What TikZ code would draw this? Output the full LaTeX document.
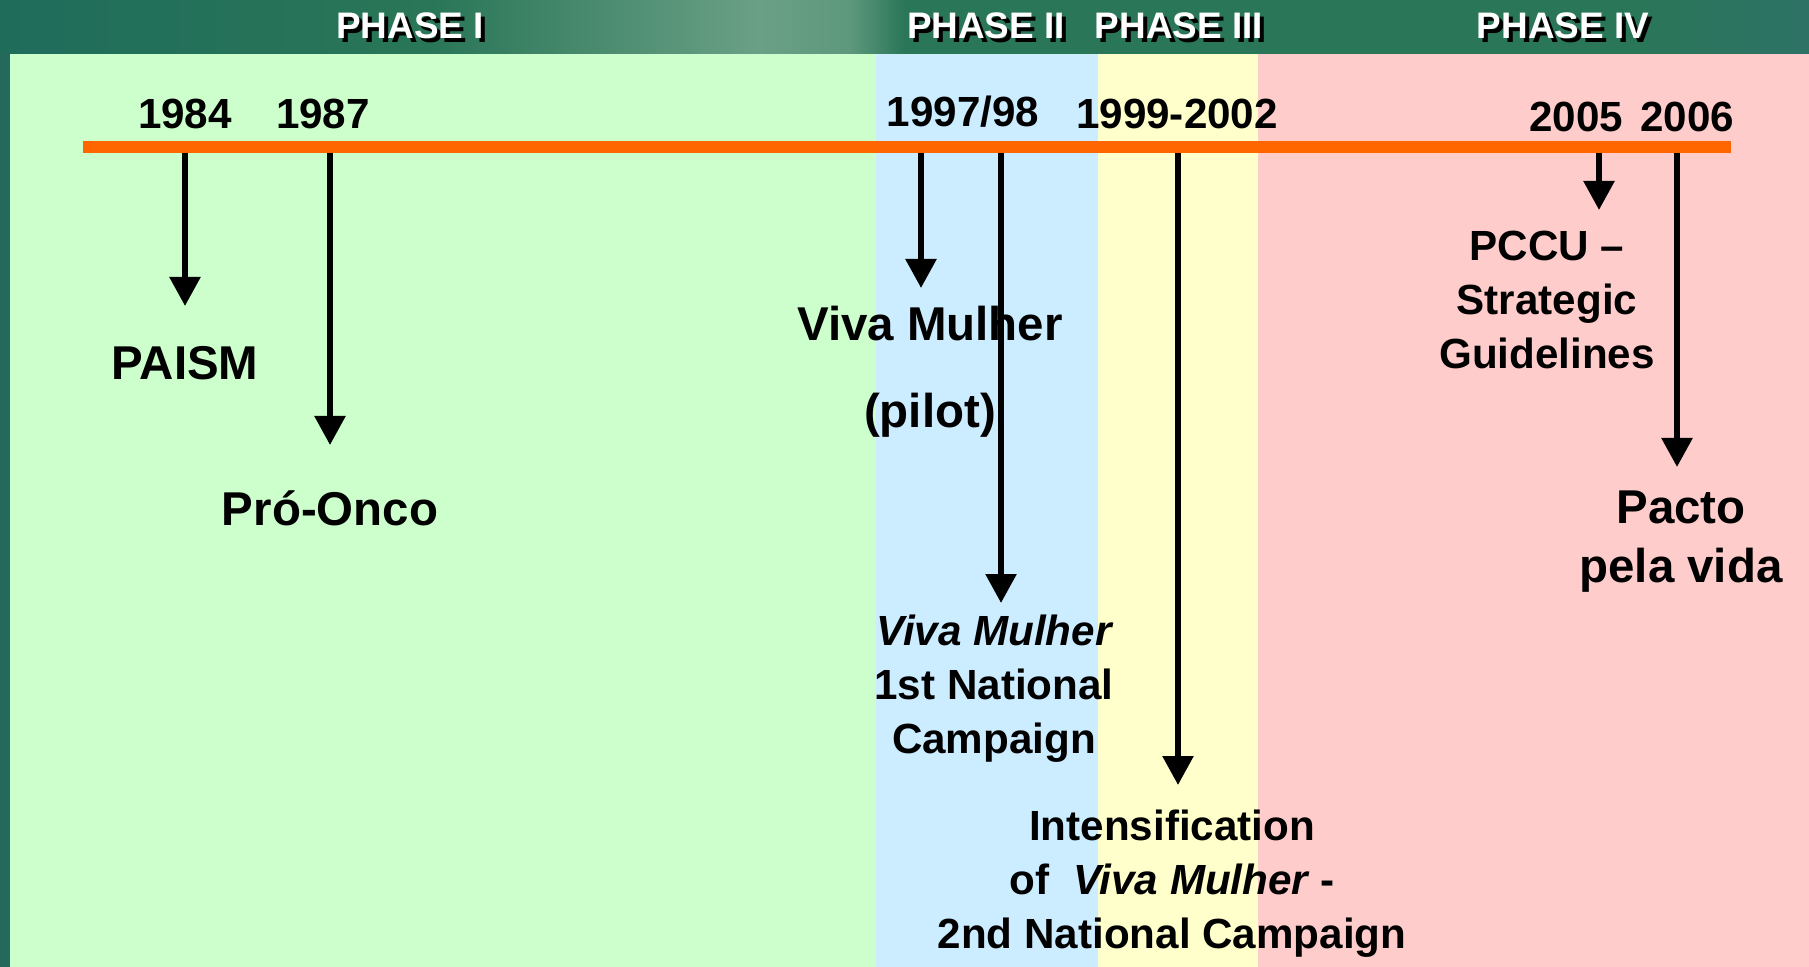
\documentclass[tikz,border=0pt]{standalone}
\usepackage{fontspec}
\setmainfont{Liberation Sans}
\usepackage{xcolor}
\usepackage{tikz}
\usetikzlibrary{arrows.meta,positioning}
\definecolor{hdrdark}{HTML}{1F6C5B}
\definecolor{hdrmid}{HTML}{2A7658}
\definecolor{hdrlight}{HTML}{6AA086}
\definecolor{hdrteal}{HTML}{2E7266}
\definecolor{stripteal}{HTML}{246A5C}
\definecolor{phaseone}{HTML}{CCFFCC}
\definecolor{phasetwo}{HTML}{CCECFF}
\definecolor{phasethree}{HTML}{FFFFCC}
\definecolor{phasefour}{HTML}{FFCCCC}
\definecolor{timeorange}{HTML}{FF6600}
\pgfdeclarehorizontalshading{headerbg}{100bp}{color(0bp)=(hdrdark); color(25bp)=(hdrdark);
  color(37bp)=(hdrmid); color(46bp)=(hdrlight); color(48.5bp)=(hdrlight!80!hdrmid);
  color(50bp)=(hdrmid); color(70bp)=(hdrmid); color(75bp)=(hdrteal); color(100bp)=(hdrteal)}
\tikzset{
  phase/.style={
    text=white, inner sep=0pt,
    font={\bfseries\fontsize{10.5}{12}\selectfont}},
  phaseshadow/.style={phase, text=black},
  year/.style={
    inner sep=0pt,
    font={\bfseries\fontsize{12}{14}\selectfont}},
  event/.style={
    align=center, inner sep=0pt,
    font={\bfseries\fontsize{13.5}{16.8}\selectfont}},
  eventsmall/.style={
    align=center, inner sep=0pt,
    font={\bfseries\fontsize{12}{15.4}\selectfont}},
  timeline/.style={draw=timeorange, line width=3.4pt},
  myarrow/.style={-{Triangle[length=2.9mm,width=3mm]}, line width=1.6pt},
}

\begin{document}
\begin{tikzpicture}[x=0.1mm, y=-0.1mm]
  \useasboundingbox (0,0) rectangle (1809,967);
  % background bands
  \shade[shading=headerbg] (0,0) rectangle (1809,54);
  \fill[stripteal] (0,54) rectangle (10,967);
  \fill[phaseone]   (10,54)   rectangle (876,967);
  \fill[phasetwo]   (876,54)  rectangle (1098,967);
  \fill[phasethree] (1098,54) rectangle (1258,967);
  \fill[phasefour]  (1258,54) rectangle (1809,967);
  % phase titles
  \foreach \px/\ptext/\pname in {410/PHASE I/ph1, 986/PHASE II/ph2,
                                 1179/PHASE III/ph3, 1563/PHASE IV/ph4} {
    \node[phaseshadow] at (\px+4,30) {\ptext};
    \node[phase] (\pname) at (\px,26) {\ptext};
  }
  % years
  \node[year] (y84)   at (185,114)  {1984};
  \node[year] (y87)   at (323,114)  {1987};
  \node[year] (y97)   at (963,112)  {1997/98};
  \node[year] (y99)   at (1177,114) {1999-2002};
  \node[year] (y05)   at (1576,117) {2005};
  \node[year] (y06)   at (1687,117) {2006};
  % arrows
  \foreach \n/\ax/\ay in {a/185/306, b/330/445, c/921/288, d/1001/603,
                          e/1178/785, f/1599/210, g/1677/467} {
    \coordinate (top-\n) at (\ax,147);
    \coordinate (tip-\n) at (\ax,\ay);
    \draw[myarrow] (top-\n) -- (tip-\n);
  }
  % timeline
  \coordinate (tl-west) at (83,147);
  \coordinate (tl-east) at (1731,147);
  \draw[timeline] (tl-west) -- (tl-east);
  % events
  \node[event] (paism) at (185,363) {PAISM};
  \node[event] (onco)  at (330,508) {Pró-Onco};
  \node[event, font={\bfseries\fontsize{13.5}{24.7}\selectfont}] (pilot) at (930,372)
    {Viva Mulher\\(pilot)};
  \node[eventsmall] (camp1) at (994,689)
    {\itshape Viva Mulher\\1st National\\Campaign};
  \node[eventsmall] (camp2) at (1172,884)
    {Intensification\\of~ \itshape Viva Mulher\upshape{} -\\2nd National Campaign};
  \node[eventsmall] (pccu) at (1547,300)
    {PCCU –\\Strategic\\Guidelines};
  \node[event] (pacto) at (1681,542) {Pacto\\pela vida};
\end{tikzpicture}
\end{document}
